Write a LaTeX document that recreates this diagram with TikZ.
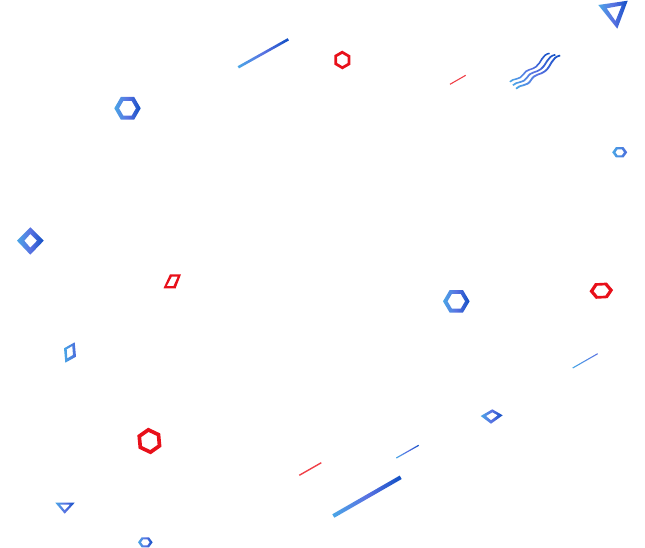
\documentclass[tikz,border=0pt]{standalone}
\usetikzlibrary{calc}
\definecolor{lb}{HTML}{4AA6E6}
\definecolor{mb}{HTML}{5A72E2}
\definecolor{db}{HTML}{0F4FC4}
\definecolor{rd}{HTML}{E8101A}
\definecolor{rl}{HTML}{F04048}
\tikzset{
  grad/.style={left color=lb,right color=db,middle color=mb,draw=none},
  gradsoft/.style={left color=lb,right color=mb!80!db,draw=none},
  redlight/.style={fill=rl,draw=none}
}
% ring hexagon: cx cy Rx Ry rot innerscale style
\newcommand\hexring[7]{%
  \begin{scope}[shift={(#1,#2)},rotate=#5]
  \path[even odd rule,#7,shade]
    (#3,0) -- (0.5*#3,0.866*#4) -- (-0.5*#3,0.866*#4) -- (-#3,0) -- (-0.5*#3,-0.866*#4) -- (0.5*#3,-0.866*#4) -- cycle
    (#6*#3,0) -- (0.5*#6*#3,0.866*#6*#4) -- (-0.5*#6*#3,0.866*#6*#4) -- (-#6*#3,0) -- (-0.5*#6*#3,-0.866*#6*#4) -- (0.5*#6*#3,-0.866*#6*#4) -- cycle;
  \end{scope}}
\newcommand\hexringred[6]{%
  \begin{scope}[shift={(#1,#2)},rotate=#5]
  \fill[even odd rule,rd]
    (#3,0) -- (0.5*#3,0.866*#4) -- (-0.5*#3,0.866*#4) -- (-#3,0) -- (-0.5*#3,-0.866*#4) -- (0.5*#3,-0.866*#4) -- cycle
    (#6*#3,0) -- (0.5*#6*#3,0.866*#6*#4) -- (-0.5*#6*#3,0.866*#6*#4) -- (-#6*#3,0) -- (-0.5*#6*#3,-0.866*#6*#4) -- (0.5*#6*#3,-0.866*#6*#4) -- cycle;
  \end{scope}}
% bar from a to b: x1 y1 x2 y2 halfwidth style
\newcommand\gbar[6]{%
  \coordinate (ba) at (#1,#2); \coordinate (bb) at (#3,#4);
  \path[#6] ($(ba)!#5!90:(bb)$) -- ($(bb)!#5!-90:(ba)$) -- ($(bb)!#5!90:(ba)$) -- ($(ba)!#5!-90:(bb)$) -- cycle;}
% wave: start x y xscale yscale
\newcommand\wavy[4]{%
  \begin{scope}[shift={(#1,#2)},xscale=#3,yscale=#4]
  \shade[grad]
    (0,0) .. controls (3.3,-4) and (10,-1.7) .. (13.3,-7.3)
          .. controls (16.7,-13.3) and (21.7,-11.7) .. (26,-15)
          .. controls (31.7,-19.3) and (31.7,-27.3) .. (40,-28.7)
    -- (40.5,-27.3)
          .. controls (33,-26) and (33,-18) .. (27,-13.8)
          .. controls (23,-10.5) and (18,-12) .. (14.5,-6.2)
          .. controls (11.3,-0.4) and (4.6,-2.7) .. (1.1,1.1) -- cycle;
  \end{scope}}
\begin{document}
\begin{tikzpicture}[x=1pt,y=-1pt]
\useasboundingbox (0,0) rectangle (645,548);
% top right triangle
\path[even odd rule,grad,shade] (598.3,5) -- (627.7,0.7) -- (617.3,28.7) -- cycle (606.7,8.3) -- (621.7,5.5) -- (615.5,21) -- cycle;
% waves
\wavy{509.3}{81.3}{1}{1}
\wavy{512.3}{84.7}{1.07}{1.07}
\wavy{515.5}{88}{1.11}{1.16}
% hexagons
\hexring{127.5}{108.3}{13.2}{13.2}{0}{0.64}{grad}
\hexringred{342.3}{60}{9.2}{9.4}{30}{0.66}
\hexring{619.7}{152.3}{7.5}{6}{0}{0.58}{gradsoft}
\hexring{456.3}{301.3}{13.3}{13}{0}{0.66}{grad}
\hexringred{601.3}{290.7}{11.8}{9}{3}{0.66}
\hexringred{149.4}{441}{13.2}{13.4}{35}{0.68}
\hexring{145.3}{542.3}{7.3}{5.8}{0}{0.6}{grad}
% diamonds
\path[even odd rule,grad,shade] (17,240.7) -- (30.3,227.3) -- (43.7,240.7) -- (30.3,254.7) -- cycle (24.3,240.7) -- (30.3,234) -- (37,240.7) -- (30.3,247.7) -- cycle;
\path[even odd rule,grad,shade] (480.7,416) -- (492.3,409.3) -- (502.7,415.3) -- (491,423.7) -- cycle (486,416) -- (492.3,412.3) -- (497.7,415.3) -- (491,420.3) -- cycle;
% parallelograms
\fill[even odd rule,rd] (163.5,288.3) -- (170,274.3) -- (181,274.3) -- (175.5,288.5) -- cycle (166.8,286) -- (171.8,276.5) -- (177.8,276.5) -- (173.5,286) -- cycle;
\path[even odd rule,gradsoft,shade] (64,348.3) -- (74.7,342.3) -- (76,356.7) -- (65.3,362.7) -- cycle (66.7,349.3) -- (72.3,346) -- (73,355) -- (67.3,358.3) -- cycle;
% small triangle
\path[even odd rule,grad,shade] (55.3,502.7) -- (74.7,502.7) -- (64.7,513.7) -- cycle (60,504.7) -- (70,504.7) -- (64.7,510.3) -- cycle;
% bars
\gbar{238.3}{67.3}{288.3}{39.3}{1.3pt}{grad,shade}
\gbar{333.3}{516}{400.7}{477.3}{2pt}{grad,shade}
\gbar{396.3}{458}{418.7}{445.3}{0.6pt}{grad,shade}
\gbar{572.7}{368}{597.7}{353.7}{0.55pt}{left color=lb,right color=mb,shade}
\gbar{299.3}{475.3}{321.3}{462.7}{0.7pt}{redlight}
\gbar{450}{84.3}{465.7}{75.3}{0.55pt}{redlight}
\end{tikzpicture}
\end{document}
